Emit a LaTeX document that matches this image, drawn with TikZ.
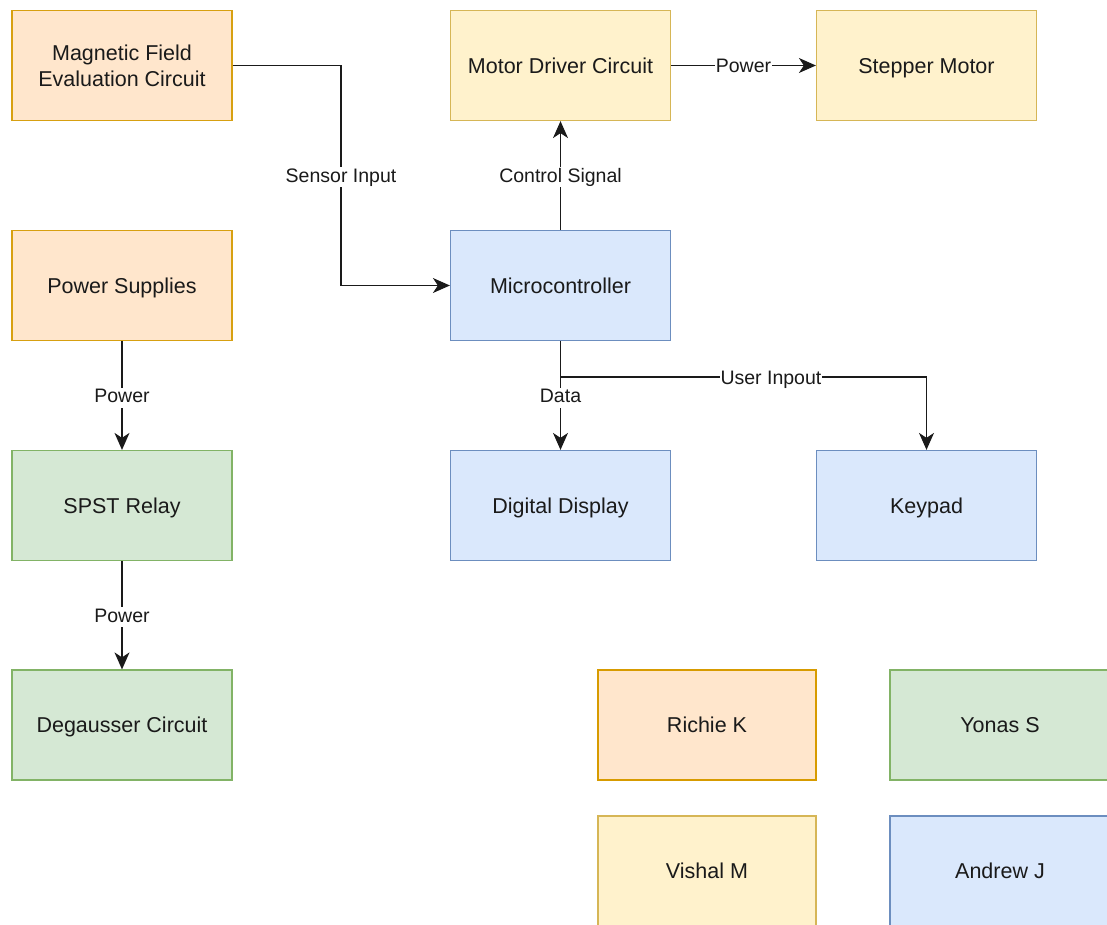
\documentclass[tikz,border=0pt]{standalone}
\usepackage{fontspec}
\setmainfont{Liberation Sans}
\usetikzlibrary{arrows.meta}
\definecolor{orfill}{HTML}{FFE6CC}\definecolor{ordraw}{HTML}{D79B00}
\definecolor{yefill}{HTML}{FFF2CC}\definecolor{yedraw}{HTML}{D6B656}
\definecolor{blfill}{HTML}{DAE8FC}\definecolor{bldraw}{HTML}{6C8EBF}
\definecolor{grfill}{HTML}{D5E8D4}\definecolor{grdraw}{HTML}{82B366}
\definecolor{txt}{HTML}{1A1A1A}
\tikzset{
  box/.style={draw, minimum width=220pt, minimum height=110pt, inner sep=0pt,
    align=center, line width=1.2pt, text=txt, font=\fontsize{21.5}{26}\selectfont,
    text height=15.5pt, text depth=0pt},
  orbox/.style={box, fill=orfill, draw=ordraw!80!yedraw},
  yebox/.style={box, fill=yefill, draw=yedraw},
  blbox/.style={box, fill=blfill, draw=bldraw},
  grbox/.style={box, fill=grfill, draw=grdraw},
  edge/.style={draw=txt, line width=1.3pt, -{Stealth[length=17pt,width=15pt,inset=5pt]}},
  lbl/.style={fill=white, inner sep=1pt, text=txt, font=\fontsize{19.5}{23}\selectfont,
    text height=14pt, text depth=4pt, yshift=-2pt}
}
\begin{document}
\begin{tikzpicture}[x=1pt,y=-1pt]
\clip (0,0) rectangle (1107,925);
\fill[white] (0,0) rectangle (1107,925);
\node[orbox, text height=, text depth=] (mag) at (122,65.5) {Magnetic Field\\Evaluation Circuit};
\node[yebox] (motor) at (560.5,65.5) {Motor Driver Circuit};
\node[yebox] (step) at (926.5,65.5) {Stepper Motor};
\node[orbox] (ps) at (122,285.5) {Power Supplies};
\node[blbox] (mc) at (560.5,285.5) {Microcontroller};
\node[grbox] (spst) at (122,505.5) {SPST Relay};
\node[blbox] (dd) at (560.5,505.5) {Digital Display};
\node[blbox] (kp) at (926.5,505.5) {Keypad};
\node[grbox] (deg) at (122,725) {Degausser Circuit};
\node[orbox, draw=ordraw, minimum width=218pt] (rk) at (707,725) {Richie K};
\node[grbox] (ys) at (1000,725) {Yonas S};
\node[yebox, minimum width=218pt] (vm) at (707,871) {Vishal M};
\node[blbox] (aj) at (1000,871) {Andrew J};

\coordinate (s1) at (341,65.5);
\coordinate (s2) at (341,285.5);
\draw[edge] (mag.east) -- (s1) -- node[lbl]{Sensor Input} (s2) -- (mc.west);
\draw[edge] (mc.north) -- node[lbl]{Control Signal} (motor.south);
\draw[edge] (motor.east) -- node[lbl]{Power} (step.west);
\draw[edge] (ps.south) -- node[lbl]{Power} (spst.north);
\draw[edge] (spst.south) -- node[lbl]{Power} (deg.north);
\draw[edge] (mc.south) -- node[lbl]{Data} (dd.north);
\coordinate (u1) at (560.5,377);
\coordinate (u2) at (926.5,377);
\draw[edge] (mc.south) -- (u1) -- node[lbl, pos=0.575]{User Inpout} (u2) -- (kp.north);
\end{tikzpicture}
\end{document}
